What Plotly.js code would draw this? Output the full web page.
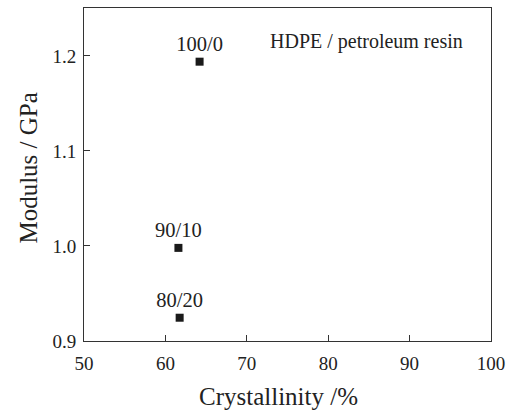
<!DOCTYPE html>
<html><head><meta charset="utf-8">
<script src="https://cdn.plot.ly/plotly-3.0.1.min.js"></script>
<style>html,body{margin:0;padding:0;background:#fff}</style>
</head><body><div id="chart" style="width:506px;height:414px"></div>
<script>
const labels = ["100/0", "90/10", "80/20"];
const crystallinity = [64.2, 61.6, 61.75];
const modulus = [1.194, 0.998, 0.9245];
const xTicks = [50, 60, 70, 80, 90, 100];
const yTicks = [0.9, 1.0, 1.1, 1.2];

const font = "Liberation Serif, Times New Roman, serif";
const ink = "#222";
const axisCommon = {
  showline: true, mirror: true, linecolor: "#333", linewidth: 1,
  ticks: "inside", ticklen: 6, tickcolor: "#333", tickwidth: 1,
  showgrid: false, zeroline: false, ticklabeloverflow: "allow",
  tickfont: {family: font, size: 19, color: ink}
};
Plotly.newPlot("chart", [{
  x: crystallinity, y: modulus, text: labels,
  mode: "markers+text", type: "scatter",
  marker: {symbol: "square", size: 8, color: "#1a1a1a"},
  textposition: "top center",
  textfont: {family: font, size: 20.5, color: ink},
  cliponaxis: false, hoverinfo: "none"
}], {
  width: 506, height: 414,
  margin: {l: 84, r: 15, t: 8, b: 73},
  paper_bgcolor: "#fff", plot_bgcolor: "#fff",
  showlegend: false,
  xaxis: Object.assign({}, axisCommon, {
    range: [50, 100], tickvals: xTicks, ticktext: xTicks.map(String),
    ticklabelstandoff: 5
  }),
  yaxis: Object.assign({}, axisCommon, {
    range: [0.9, 1.2505], tickvals: yTicks, ticktext: yTicks.map(v => v.toFixed(1)),
    ticklabelstandoff: 3
  }),
  annotations: [{
    xref: "paper", yref: "paper", x: 0.693, y: 0.90, xanchor: "center", yanchor: "middle",
    text: "HDPE / petroleum resin", showarrow: false,
    font: {family: font, size: 20, color: ink}
  }, {
    xref: "paper", yref: "paper", x: 0.479, y: -0.167, xanchor: "center", yanchor: "middle",
    text: "Crystallinity /%", showarrow: false,
    font: {family: font, size: 25, color: ink}
  }, {
    xref: "paper", yref: "paper", x: -0.1386, y: 0.5195, xanchor: "center", yanchor: "middle",
    text: "Modulus / GPa", showarrow: false, textangle: -90,
    font: {family: font, size: 25, color: ink}
  }]
}, {staticPlot: true});
</script></body></html>
